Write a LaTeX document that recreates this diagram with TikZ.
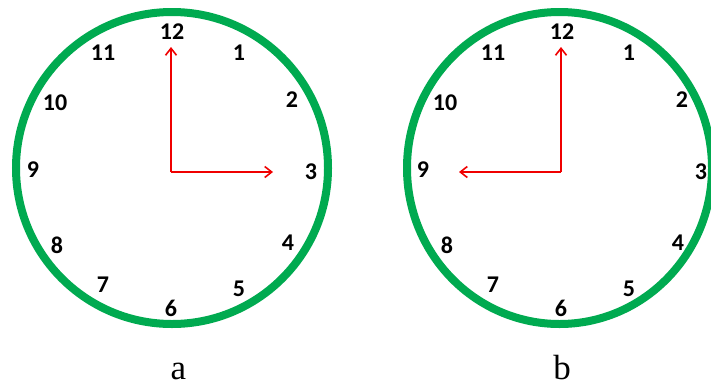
\documentclass[tikz,border=0pt]{standalone}
\usepackage{fontspec}
\setmainfont{Liberation Serif}
\newfontfamily\numfont{Carlito}
\usetikzlibrary{arrows.meta}
\definecolor{ringgreen}{RGB}{0,170,80}
\definecolor{handred}{RGB}{240,0,0}
\begin{document}
\begin{tikzpicture}[x=1pt,y=-1pt,
  ring/.style={draw=ringgreen,line width=8pt},
  hand/.style={draw=handred,line width=1.6pt,-{Straight Barb[length=7pt,width=11pt]}},
  num/.style={font=\numfont\bfseries\fontsize{24}{24}\selectfont,inner sep=0pt},
  lbl/.style={font=\fontsize{35}{35}\selectfont,inner sep=0pt,anchor=base}]
\useasboundingbox (0,0) rectangle (711,383);
\clip (0,0) rectangle (711,383);
\fill[white] (0,0) rectangle (711,383);
% clock a
\draw[ring] (172,168) ellipse [x radius=156pt, y radius=156pt];
\foreach \t/\x/\y in {12/172/32,1/239/53,2/292/100,3/311/172,4/288/243,5/239/289,6/171/308,7/103/285,8/57/245,9/33/170,10/55/103,11/103/53}
  \node[num] (a\t) at (\x,\y) {\t};
\coordinate (ca) at (171,172);
\coordinate (ca12) at (171,47);
\coordinate (ca3) at (273,172);
\draw[hand] (ca) -- (ca12);
\draw[hand] (ca) -- (ca3);
\node[lbl] (la) at (178.5,379) {a};
% clock b
\draw[ring] (559.5,168) ellipse [x radius=152.5pt, y radius=156pt];
\foreach \t/\x/\y in {12/562/32,1/629/53,2/682/100,3/701/172,4/678/243,5/629/289,6/561/308,7/493/285,8/447/245,9/423/170,10/445/103,11/493/53}
  \node[num] (b\t) at (\x,\y) {\t};
\coordinate (cb) at (561,172);
\coordinate (cb12) at (561,47);
\coordinate (cb9) at (459,172);
\draw[hand] (cb) -- (cb12);
\draw[hand] (cb) -- (cb9);
\node[lbl] (lb) at (562,379) {b};
\end{tikzpicture}
\end{document}
